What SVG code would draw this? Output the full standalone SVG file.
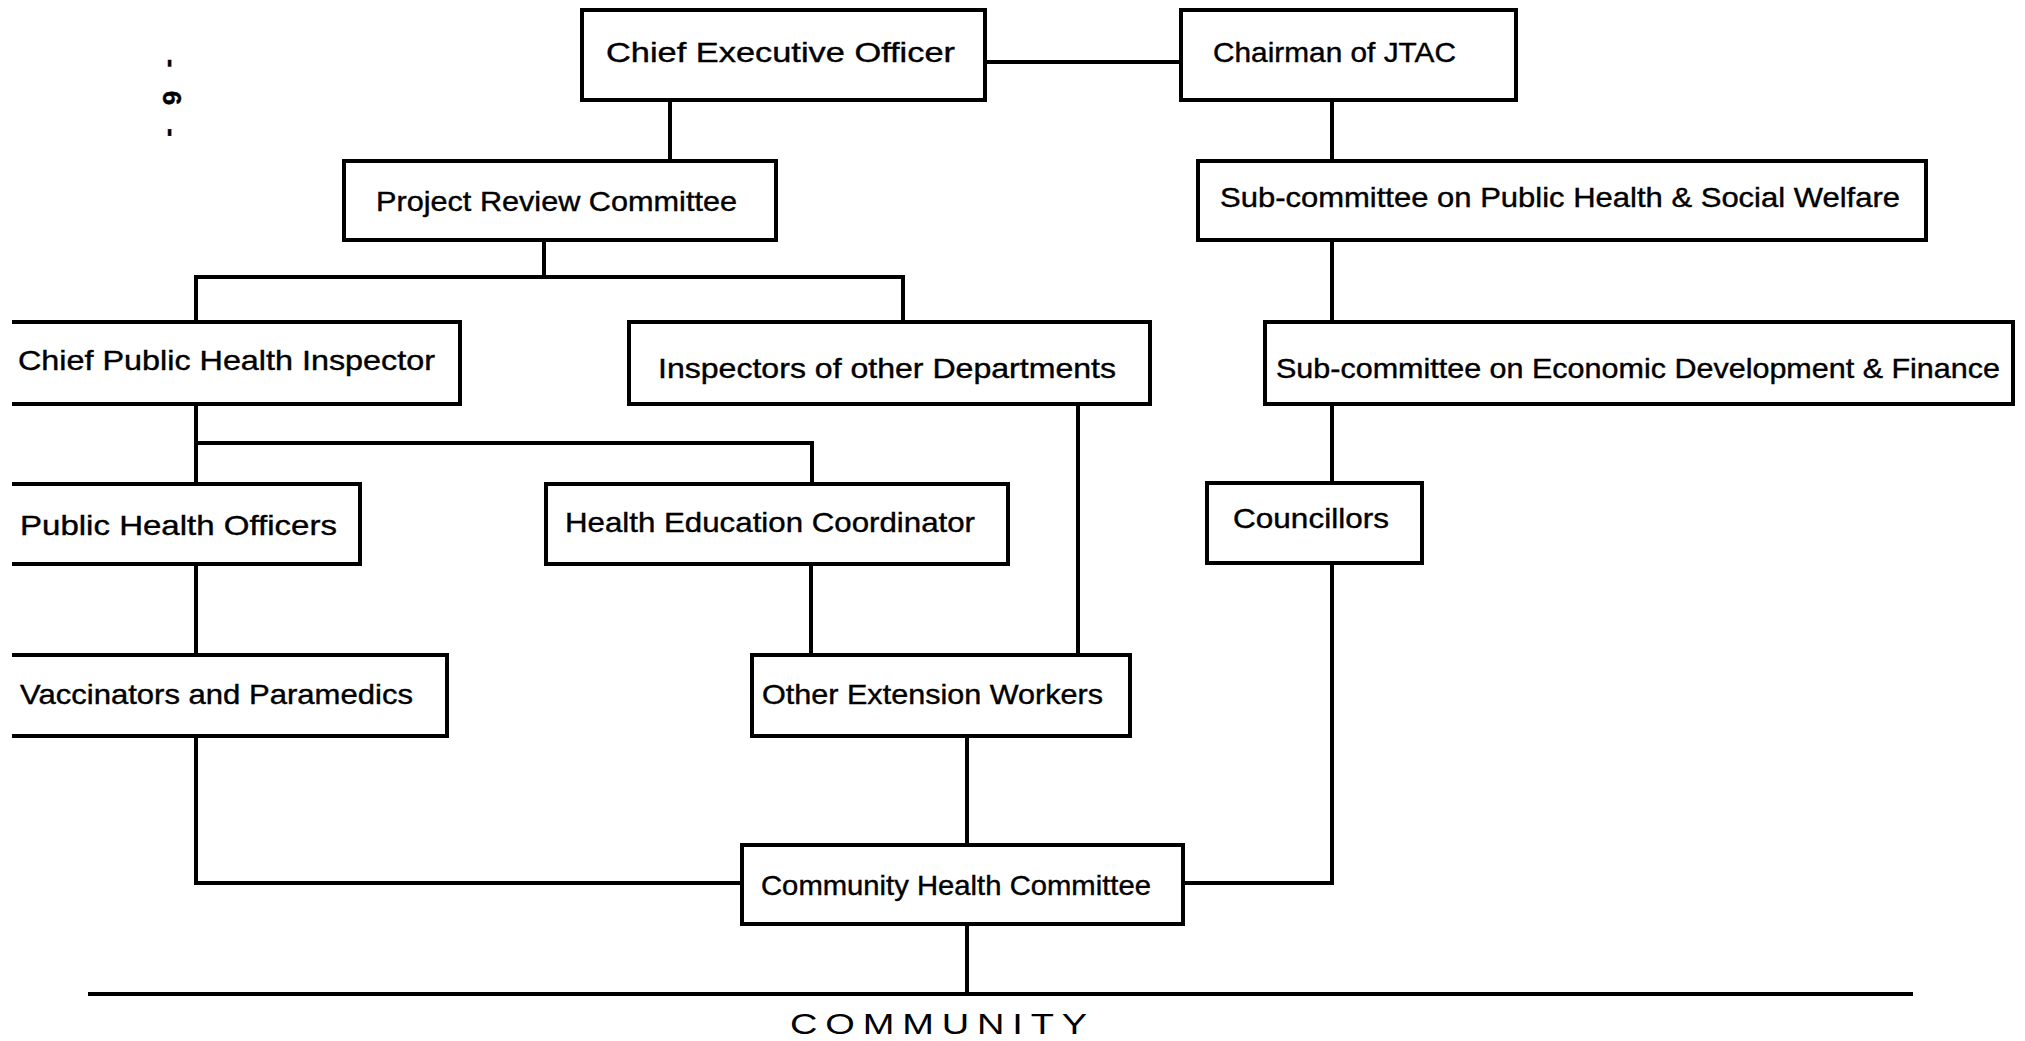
<svg xmlns="http://www.w3.org/2000/svg" width="2025" height="1041" viewBox="0 0 2025 1041">
<style>
.box{fill:none;stroke:#000;stroke-width:4;stroke-linejoin:miter}
.ln{fill:none;stroke:#000;stroke-width:4}
.t{font-family:"Liberation Sans","DejaVu Sans",sans-serif;font-size:28px;fill:#000;stroke:#000;stroke-width:0.4}
</style>
<rect width="2025" height="1041" fill="#fff"/>
<text class="t" x="0" y="9" transform="translate(172,98) rotate(90)" text-anchor="middle" style="font-size:26px;font-weight:bold" textLength="78" lengthAdjust="spacing">- 6 -</text>
<g id="connectors">
<path class="ln" d="M985,62 H1180"/>
<path class="ln" d="M670,100 V161"/>
<path class="ln" d="M1332,100 V161"/>
<path class="ln" d="M544,240 V277 M196,322 V277 H903 V322"/>
<path class="ln" d="M1332,240 V322"/>
<path class="ln" d="M196,404 V484 M196,443 H812 V484"/>
<path class="ln" d="M1078,404 V655"/>
<path class="ln" d="M1332,404 V484"/>
<path class="ln" d="M196,564 V655"/>
<path class="ln" d="M811,564 V655"/>
<path class="ln" d="M196,736 V883 H742"/>
<path class="ln" d="M967,736 V845"/>
<path class="ln" d="M1332,564 V883 H1183"/>
<path class="ln" d="M967,924 V994"/>
<path class="ln" d="M88,994 H1913"/>
</g>
<g id="ceo"><rect class="box" x="582" y="10" width="403" height="90"/><text class="t" x="606" y="62" textLength="349" lengthAdjust="spacingAndGlyphs">Chief Executive Officer</text></g>
<g id="chairman"><rect class="box" x="1181" y="10" width="335" height="90"/><text class="t" x="1213" y="62" textLength="243" lengthAdjust="spacingAndGlyphs">Chairman of JTAC</text></g>
<g id="prc"><rect class="box" x="344" y="161" width="432" height="79"/><text class="t" x="376" y="211" textLength="361" lengthAdjust="spacingAndGlyphs">Project Review Committee</text></g>
<g id="sub1"><rect class="box" x="1198" y="161" width="728" height="79"/><text class="t" x="1220" y="207" textLength="680" lengthAdjust="spacingAndGlyphs">Sub-committee on Public Health &amp; Social Welfare</text></g>
<g id="cphi"><path class="box" d="M12,322 H460 V404 H12"/><text class="t" x="18" y="370" textLength="417" lengthAdjust="spacingAndGlyphs">Chief Public Health Inspector</text></g>
<g id="iood"><rect class="box" x="629" y="322" width="521" height="82"/><text class="t" x="658" y="378" textLength="458" lengthAdjust="spacingAndGlyphs">Inspectors of other Departments</text></g>
<g id="sub2"><rect class="box" x="1265" y="322" width="748" height="82"/><text class="t" x="1276" y="378" textLength="724" lengthAdjust="spacingAndGlyphs">Sub-committee on Economic Development &amp; Finance</text></g>
<g id="pho"><path class="box" d="M12,484 H360 V564 H12"/><text class="t" x="20" y="535" textLength="317" lengthAdjust="spacingAndGlyphs">Public Health Officers</text></g>
<g id="hec"><rect class="box" x="546" y="484" width="462" height="80"/><text class="t" x="565" y="532" textLength="410" lengthAdjust="spacingAndGlyphs">Health Education Coordinator</text></g>
<g id="councillors"><rect class="box" x="1207" y="483" width="215" height="80"/><text class="t" x="1233" y="528" textLength="156" lengthAdjust="spacingAndGlyphs">Councillors</text></g>
<g id="vp"><path class="box" d="M12,655 H447 V736 H12"/><text class="t" x="20" y="704" textLength="393" lengthAdjust="spacingAndGlyphs">Vaccinators and Paramedics</text></g>
<g id="oew"><rect class="box" x="752" y="655" width="378" height="81"/><text class="t" x="762" y="704" textLength="341" lengthAdjust="spacingAndGlyphs">Other Extension Workers</text></g>
<g id="chc"><rect class="box" x="742" y="845" width="441" height="79"/><text class="t" x="761" y="895" textLength="390" lengthAdjust="spacingAndGlyphs">Community Health Committee</text></g>
<g id="community"><text x="790" y="1034" textLength="305" lengthAdjust="spacingAndGlyphs" style="font-family:'Liberation Sans','DejaVu Sans',sans-serif;font-size:29px;letter-spacing:6px;fill:#000">COMMUNITY</text></g>
</svg>
